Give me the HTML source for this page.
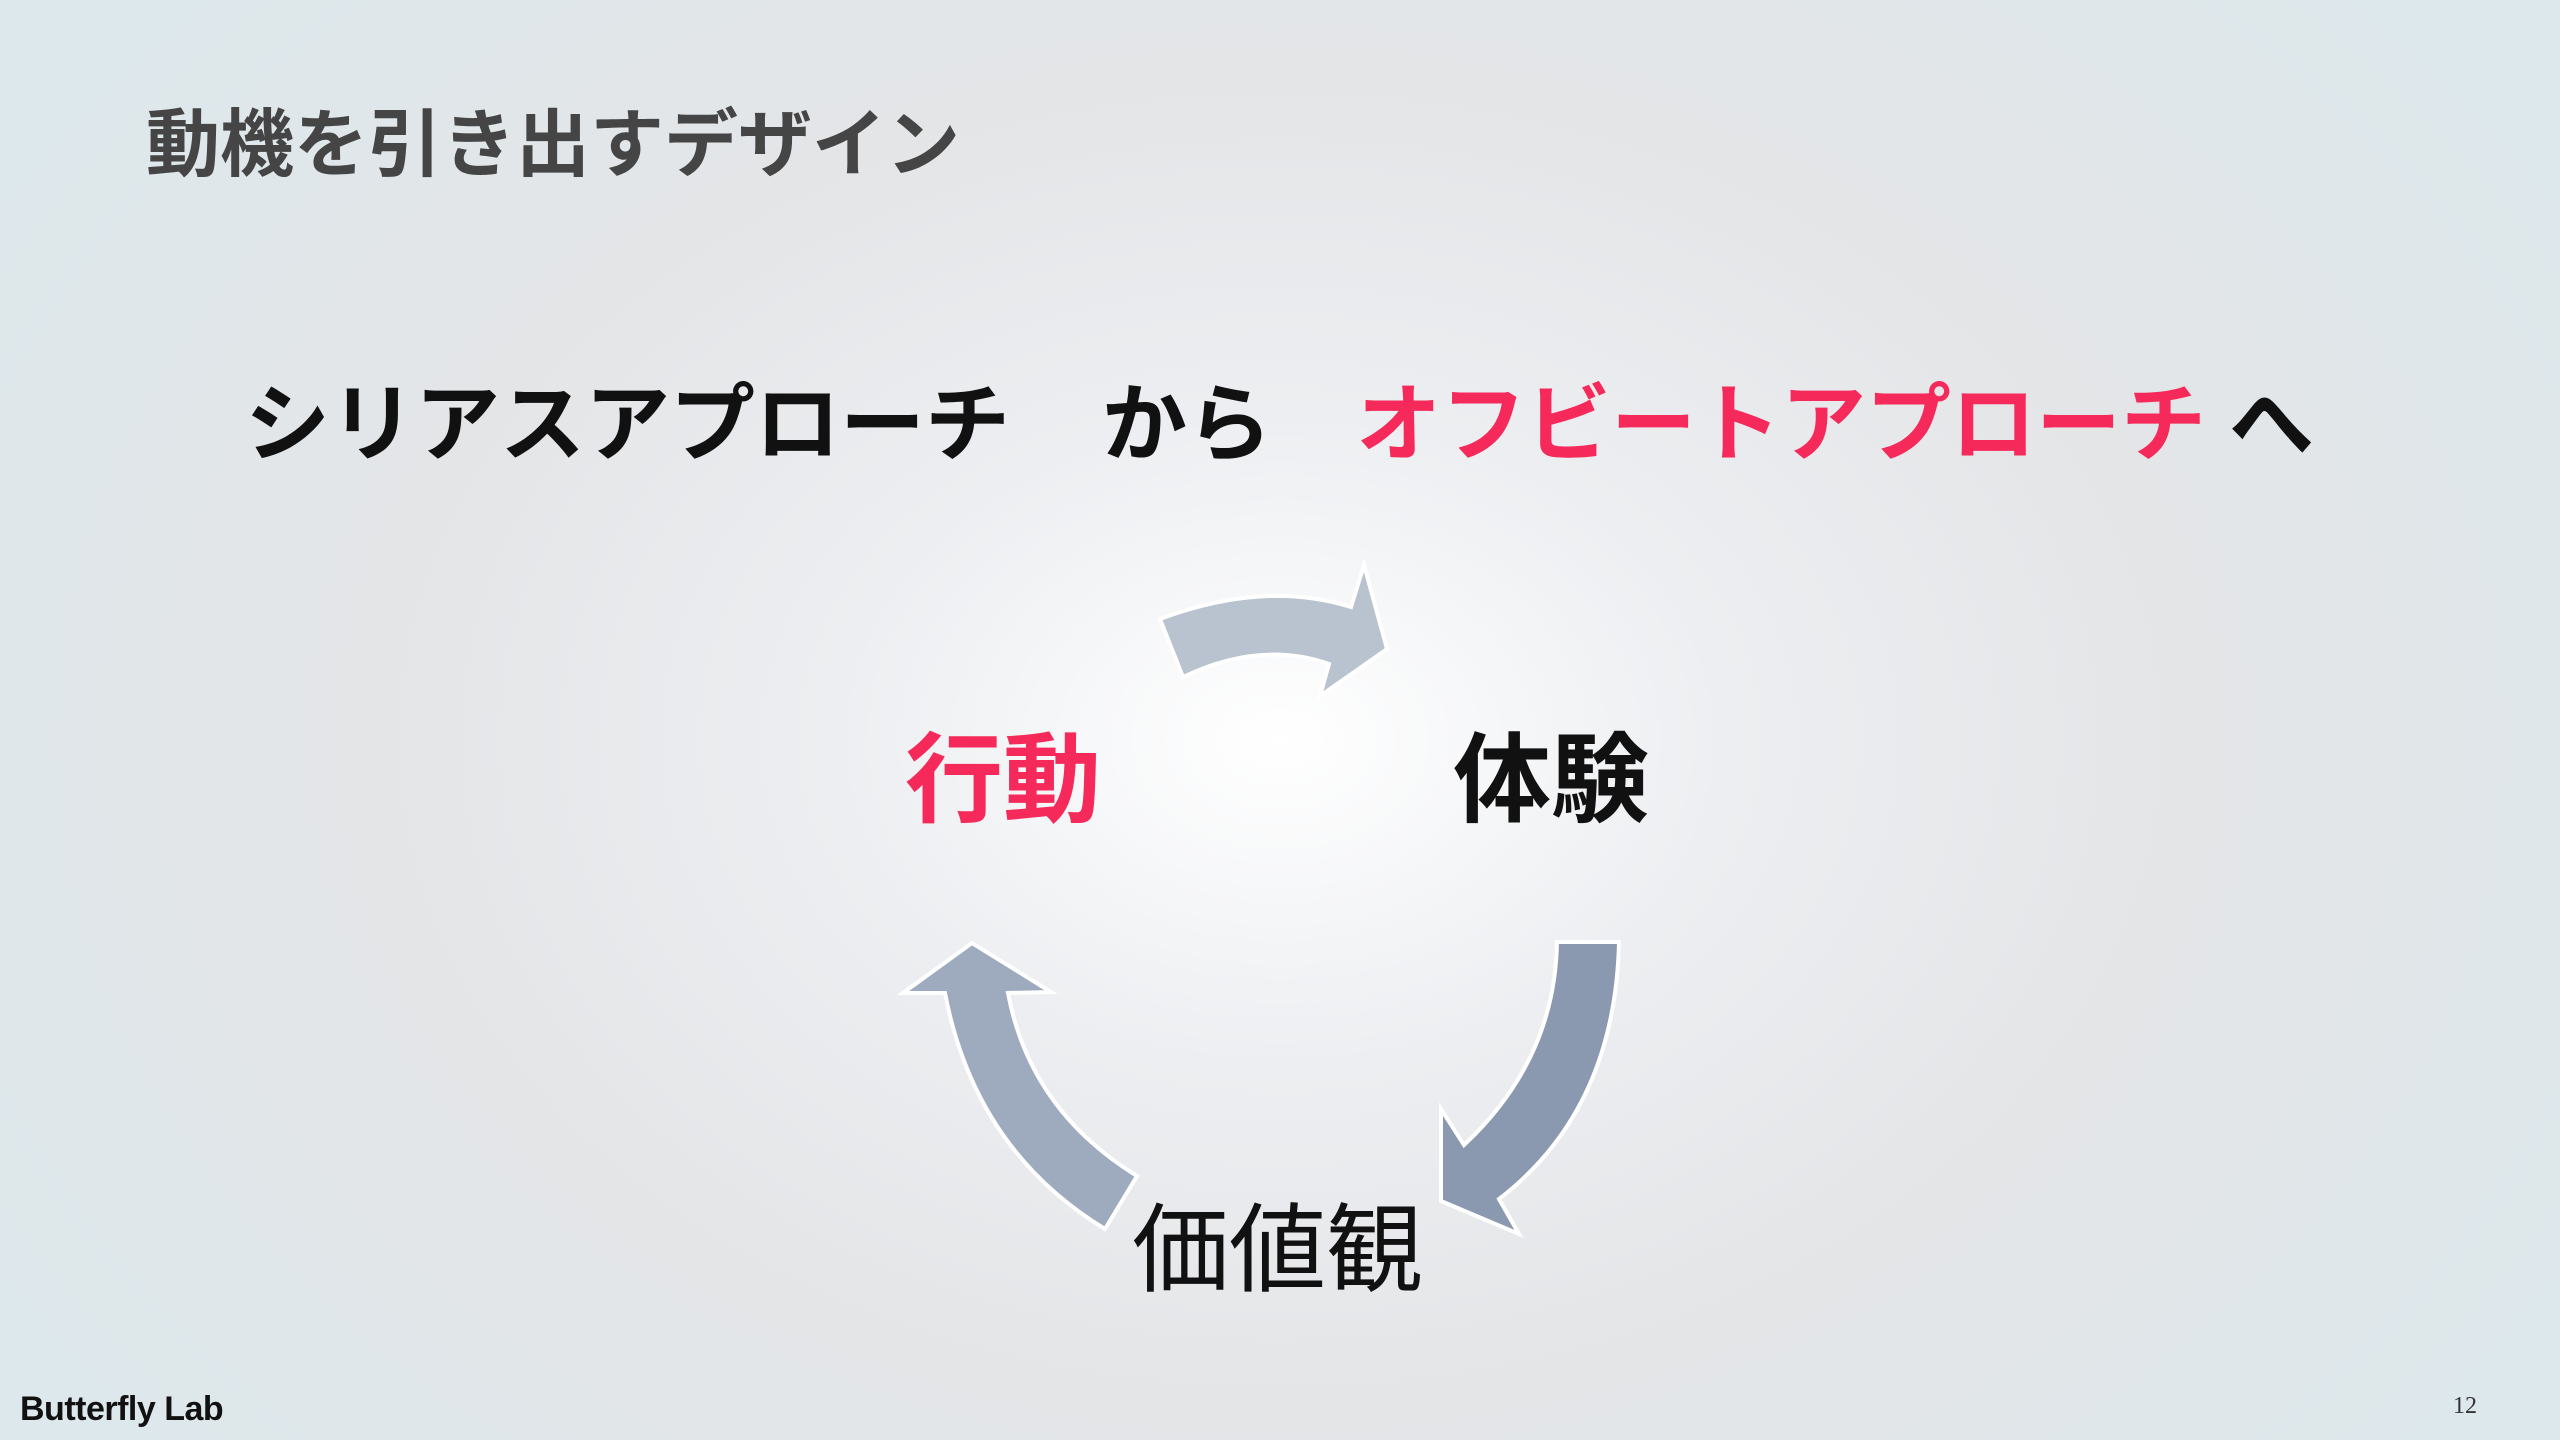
<!DOCTYPE html>
<html><head><meta charset="utf-8"><style>
html,body{margin:0;padding:0}
body{width:2560px;height:1440px;position:relative;overflow:hidden;
background:radial-gradient(ellipse 1500px 1100px at 1280px 740px,#ffffff 0%,#eceef1 30%,#e4e5e7 60%,#dde8ec 100%);
font-family:"Liberation Sans","Noto Sans CJK JP",sans-serif}
.t{position:absolute;white-space:nowrap;font-weight:bold;line-height:1}
</style></head><body>
<div class="t" style="left:146px;top:108px;font-size:74px;color:#454545">動機を引き出すデザイン</div>
<div class="t" style="left:245px;top:383px;font-size:85px;color:#111">シリアスアプローチ</div>
<div class="t" style="left:1102px;top:383px;font-size:85px;color:#111">から</div>
<div class="t" style="left:1356px;top:383px;font-size:85px;color:#f52a5a">オフビートアプローチ</div>
<div class="t" style="left:2229px;top:383px;font-size:85px;color:#111">へ</div>
<svg style="position:absolute;left:0;top:0" width="2560" height="1440">
<g stroke="#fff" stroke-width="4" stroke-linejoin="miter">
<path d="M1160,619 Q1265,580 1351,607 L1364,565 L1387,649 L1320,696 L1329,664 Q1260,640 1183,677 Z" fill="#b9c2cf"/>
<path d="M1555,942 L1619,942 Q1615,1110 1499,1199 L1519,1234 L1441,1201 L1441,1109 L1464,1145 Q1555,1060 1557,942 Z" fill="#8a98b0"/>
<path d="M972,943 L903,993 L945,993 Q975,1150 1105,1229 L1137,1176 Q1030,1110 1008,993 L1051,992 Z" fill="#9eabbf"/>
</g>
</svg>
<div class="t" style="left:905px;top:731px;font-size:98px;color:#f52a5a">行動</div>
<div class="t" style="left:1453px;top:731px;font-size:98px;color:#111">体験</div>
<div class="t" style="left:1132px;top:1202px;font-size:97px;color:#111;font-weight:normal">価値観</div>
<div class="t" style="left:20px;top:1392px;font-size:34px;color:#111;letter-spacing:-0.5px">Butterfly Lab</div>
<div class="t" style="left:2453px;top:1394px;font-size:24px;color:#333;font-weight:normal;font-family:'Liberation Serif',serif">12</div>
</body></html>
